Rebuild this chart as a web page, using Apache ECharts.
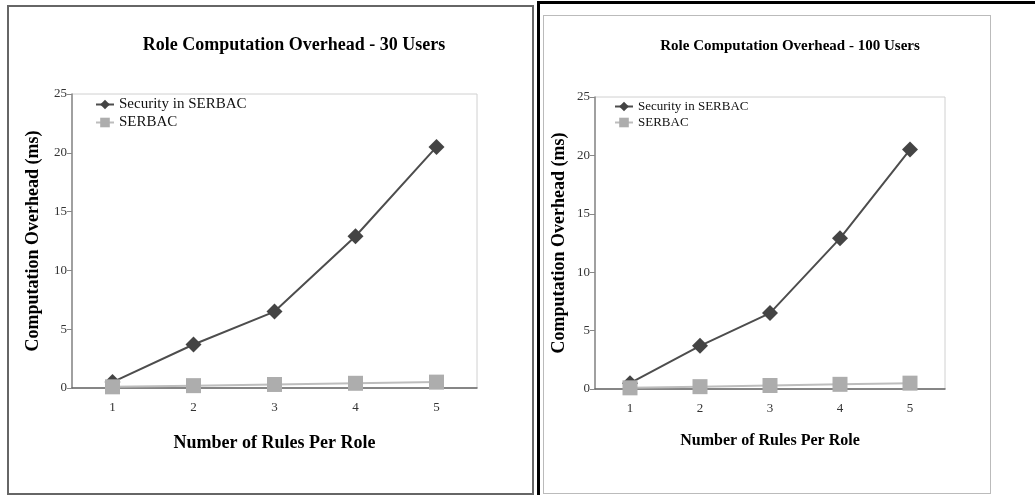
<!DOCTYPE html>
<html>
<head>
<meta charset="utf-8">
<script src="https://cdn.jsdelivr.net/npm/echarts@6/dist/echarts.min.js"></script>
<style>
  html, body { margin: 0; padding: 0; background: #fff; }
  #wrap { position: relative; width: 1035px; height: 495px; overflow: hidden; }
  #leftBox { position: absolute; left: 7px; top: 5px; width: 523px; height: 486px; border: 2px solid #666; }
  #rightFrame { position: absolute; left: 537px; top: 1px; width: 600px; height: 600px; border-left: 3px solid #000; border-top: 3px solid #000; }
  #rightBox { position: absolute; left: 543px; top: 15px; width: 446px; height: 477px; border: 1px solid #bbb; }
  #chart { position: absolute; left: 0; top: 0; width: 1035px; height: 495px; }
</style>
</head>
<body>
<div id="wrap">
  <div id="leftBox"></div>
  <div id="rightFrame"></div>
  <div id="rightBox"></div>
  <div id="chart"></div>
</div>
<script>
// values
const rules = ['1', '2', '3', '4', '5']
const secure30 = [0.5, 3.7, 6.5, 12.9, 20.5]
const serbac30 = [0.1, 0.2, 0.3, 0.4, 0.5]
const secure100 = [0.5, 3.7, 6.5, 12.9, 20.5]
const serbac100 = [0.1, 0.2, 0.3, 0.4, 0.5]
const yTicks = [0, 5, 10, 15, 20, 25]

const serif = 'Liberation Serif'

function xAxis(idx, nameSize, nameGap) {
  return {
    type: 'category',
    gridIndex: idx,
    data: rules,
    boundaryGap: true,
    name: 'Number of Rules Per Role',
    nameLocation: 'middle',
    nameGap: nameGap,
    nameTextStyle: { fontFamily: serif, fontWeight: 'bold', fontSize: nameSize, color: '#000' },
    axisLine: { lineStyle: { color: '#666', width: 1.5 } },
    axisTick: { show: false },
    axisLabel: { fontFamily: serif, fontSize: 13, color: '#333', margin: 13 }
  }
}

function yAxis(idx, nameGap) {
  return {
    type: 'value',
    gridIndex: idx,
    min: yTicks[0],
    max: yTicks[yTicks.length - 1],
    interval: 5,
    name: 'Computation Overhead (ms)',
    nameLocation: 'middle',
    nameGap: nameGap,
    nameTextStyle: { fontFamily: serif, fontWeight: 'bold', fontSize: 18, color: '#000' },
    axisLine: { show: true, lineStyle: { color: '#888', width: 1.5 } },
    axisTick: { show: true, length: 5, lineStyle: { color: '#888' } },
    splitLine: { show: false },
    axisLabel: { fontFamily: serif, fontSize: 13, color: '#333', margin: 5 }
  }
}

function lines(idx, secure, serbac) {
  return [{
    name: 'Security in SERBAC',
    type: 'line',
    xAxisIndex: idx,
    yAxisIndex: idx,
    data: secure,
    symbol: 'diamond',
    symbolSize: 16,
    itemStyle: { color: '#444' },
    lineStyle: { color: '#4d4d4d', width: 2 },
    z: 2
  }, {
    name: 'SERBAC',
    type: 'line',
    xAxisIndex: idx,
    yAxisIndex: idx,
    data: serbac,
    symbol: 'rect',
    symbolSize: 15,
    itemStyle: { color: '#adadad' },
    lineStyle: { color: '#bdbdbd', width: 2 },
    z: 3
  }]
}

const chart = echarts.init(document.getElementById('chart'))
chart.setOption({
  animation: false,
  title: [{
    text: 'Role Computation Overhead - 30 Users',
    left: 289, top: 31, textAlign: 'center',
    textStyle: { fontFamily: serif, fontWeight: 'bold', fontSize: 18, color: '#000' }
  }, {
    text: 'Role Computation Overhead - 100 Users',
    left: 785, top: 34, textAlign: 'center',
    textStyle: { fontFamily: serif, fontWeight: 'bold', fontSize: 15, color: '#000' }
  }],
  legend: [{
    left: 90, top: 92, orient: 'vertical', itemGap: 3,
    itemWidth: 18, itemHeight: 12,
    textStyle: { fontFamily: serif, fontSize: 15, color: '#111' },
    data: ['Security in SERBAC', 'SERBAC']
  }, {
    left: 609, top: 95, orient: 'vertical', itemGap: 3,
    itemWidth: 18, itemHeight: 12,
    textStyle: { fontFamily: serif, fontSize: 13, color: '#111' },
    data: ['Security in SERBAC', 'SERBAC']
  }],
  grid: [
    { left: 72, top: 94, width: 405, height: 294, show: true, borderColor: '#d0d0d0', borderWidth: 1 },
    { left: 595, top: 97, width: 350, height: 292, show: true, borderColor: '#d0d0d0', borderWidth: 1 }
  ],
  xAxis: [xAxis(0, 18, 46), xAxis(1, 16, 44)],
  yAxis: [yAxis(0, 30), yAxis(1, 27)],
  series: [...lines(0, secure30, serbac30), ...lines(1, secure100, serbac100)]
})
</script>
</body>
</html>
